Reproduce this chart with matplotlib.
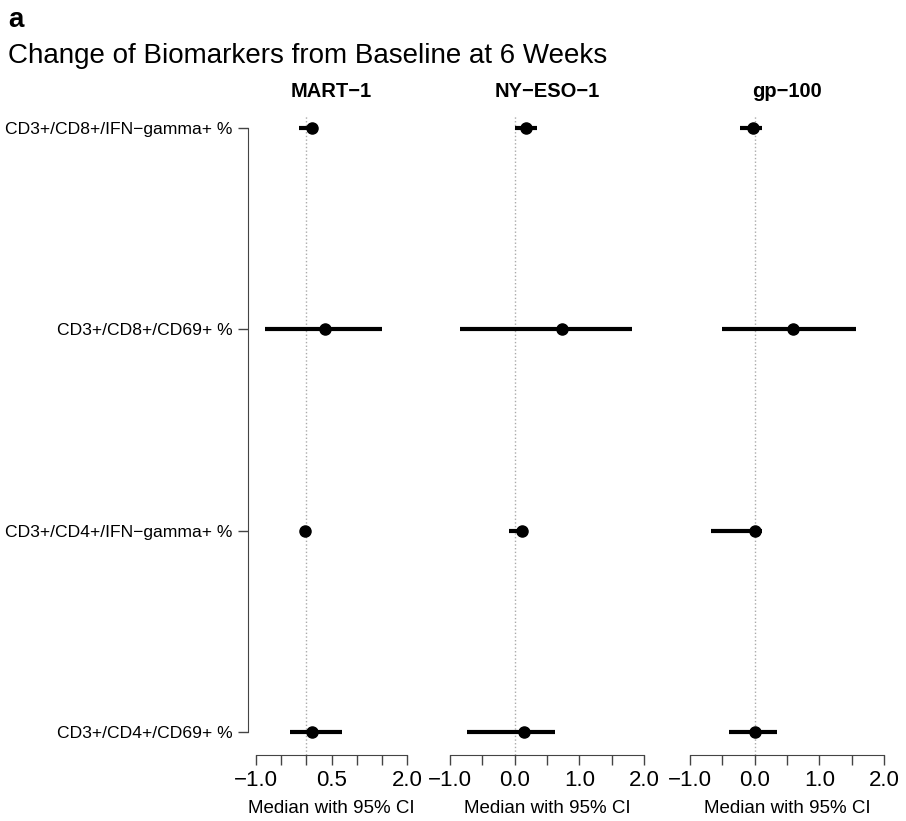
import matplotlib.pyplot as plt
import numpy as np

plt.rcParams['font.family'] = ['Liberation Sans', 'DejaVu Sans']

# Datos
rows = ["CD3+/CD8+/IFN\u2212gamma+ %", "CD3+/CD8+/CD69+ %",
        "CD3+/CD4+/IFN\u2212gamma+ %", "CD3+/CD4+/CD69+ %"]
panels = ["MART\u22121", "NY\u2212ESO\u22121", "gp\u2212100"]

mart_med = [0.12, 0.38, -0.02, 0.12]
mart_lo = [-0.14, -0.82, -0.10, -0.32]
mart_hi = [0.16, 1.50, 0.08, 0.70]

nyeso_med = [0.17, 0.73, 0.11, 0.15]
nyeso_lo = [0.00, -0.85, -0.09, -0.73]
nyeso_hi = [0.34, 1.82, 0.19, 0.62]

gp_med = [-0.02, 0.60, 0.00, 0.00]
gp_lo = [-0.22, -0.51, -0.68, -0.39]
gp_hi = [0.12, 1.56, 0.11, 0.34]

tick_pos = [-1.0, -0.5, 0.0, 0.5, 1.0, 1.5, 2.0]
mart_labels = ["\u22121.0", "", "", "0.5", "", "", "2.0"]
other_labels = ["\u22121.0", "", "0.0", "", "1.0", "", "2.0"]

W, H = 906, 821
fig = plt.figure(figsize=(W / 100, H / 100), dpi=100)

# posiciones de los paneles en pixeles (izq, der)
xspans = [(256, 407), (450, 644), (690, 884)]
top, bottom = 115, 755

series = [(mart_med, mart_lo, mart_hi, mart_labels),
          (nyeso_med, nyeso_lo, nyeso_hi, other_labels),
          (gp_med, gp_lo, gp_hi, other_labels)]

y = np.arange(1, len(rows) + 1)
axis_col = '#444444'

for i, ((x0, x1), (med, lo, hi, labs)) in enumerate(zip(xspans, series)):
    ax = fig.add_axes([x0 / W, 1 - bottom / H, (x1 - x0) / W, (bottom - top) / H])
    ax.set_xlim(-1, 2)
    ax.set_ylim(4.114, 0.935)
    ax.axvline(0, color='#aaaaaa', lw=1, ls=':', zorder=1)
    for yi, m, l, h in zip(y, med, lo, hi):
        ax.plot([l, h], [yi, yi], color='black', lw=3, solid_capstyle='butt', clip_on=False, zorder=2)
        ax.plot(m, yi, 'o', color='black', ms=8, clip_on=False, zorder=3)
    for s in ['top', 'right']:
        ax.spines[s].set_visible(False)
    ax.spines['bottom'].set_bounds(-1, 2)
    ax.spines['bottom'].set_color(axis_col)
    ax.set_xticks(tick_pos)
    ax.set_xticklabels(labs, fontsize=16)
    ax.tick_params(axis='x', length=7, width=1, color=axis_col, pad=4)
    ax.set_xlabel("Median with 95% CI", fontsize=13.5, labelpad=6)
    ax.set_title(panels[i], fontsize=14.5, fontweight='bold', pad=13)
    if i == 0:
        ax.spines['left'].set_position(('outward', 6))
        ax.spines['left'].set_bounds(1, 4)
        ax.spines['left'].set_color(axis_col)
        ax.set_yticks(y)
        ax.set_yticklabels(rows, fontsize=12.6)
        ax.tick_params(axis='y', length=7, width=1, color=axis_col, pad=4)
    else:
        ax.spines['left'].set_visible(False)
        ax.set_yticks([])

fig.text(8 / W, 1 - 20 / H, "a", fontsize=20, fontweight='bold', va='center', ha='left')
fig.text(8 / W, 1 - 56 / H, "Change of Biomarkers from Baseline at 6 Weeks", fontsize=20,
         va='center', ha='left')

fig.savefig("out.png", dpi=100)
